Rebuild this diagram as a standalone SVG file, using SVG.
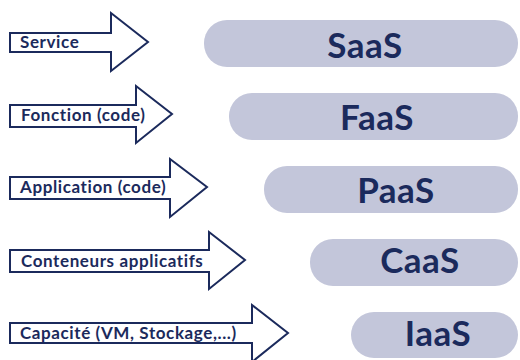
<svg xmlns="http://www.w3.org/2000/svg" width="520" height="360" viewBox="0 0 520 360">
<style>
.arrow{fill:#ffffff;stroke:#1b2a5c;stroke-width:2;stroke-linejoin:miter}
.lbl{font-family:Lato,"Liberation Sans",sans-serif;font-weight:700;font-size:17px;letter-spacing:0.6px;fill:#1b2a5c}
.pill{fill:#c3c6da}
.big{font-family:Lato,"Liberation Sans",sans-serif;font-weight:700;font-size:35px;letter-spacing:0.5px;fill:#1b2a5c;text-anchor:middle}
</style>
<rect width="520" height="360" fill="#ffffff"/>
<g id="connectors">
<g id="arrow-service"><path class="arrow" d="M10,33 H111 V13 L148,42 L111,71 V52 H10 Z"/><text class="lbl" x="20" y="48">Service</text></g>
<g id="arrow-fonction"><path class="arrow" d="M10,105 H136 V86 L172,114 L136,143 V127 H10 Z"/><text class="lbl" x="21" y="121">Fonction (code)</text></g>
<g id="arrow-application"><path class="arrow" d="M10,177 H170 V159 L207,187 L170,217 V199 H10 Z"/><text class="lbl" x="20" y="193">Application (code)</text></g>
<g id="arrow-conteneurs"><path class="arrow" d="M10,250 H209 V232 L245,260 L209,289 V272 H10 Z"/><text class="lbl" x="21" y="267">Conteneurs applicatifs</text></g>
<g id="arrow-capacite"><path class="arrow" d="M10,323 H252 V305 L288,333 L252,362 V343 H10 Z"/><text class="lbl" x="20" y="339">Capacité (VM, Stockage,...)</text></g>
</g>
<g id="saas"><rect class="pill" x="204" y="20" width="314" height="47" rx="23"/><text class="big" x="365" y="58">SaaS</text></g>
<g id="faas"><rect class="pill" x="229" y="93" width="289" height="47" rx="23"/><text class="big" x="377" y="130">FaaS</text></g>
<g id="paas"><rect class="pill" x="264" y="166" width="254" height="47" rx="23"/><text class="big" x="396" y="203">PaaS</text></g>
<g id="caas"><rect class="pill" x="310" y="239" width="208" height="47" rx="23"/><text class="big" x="420" y="273">CaaS</text></g>
<g id="iaas"><rect class="pill" x="351" y="312" width="167" height="46" rx="23"/><text class="big" x="438" y="346">IaaS</text></g>
</svg>
